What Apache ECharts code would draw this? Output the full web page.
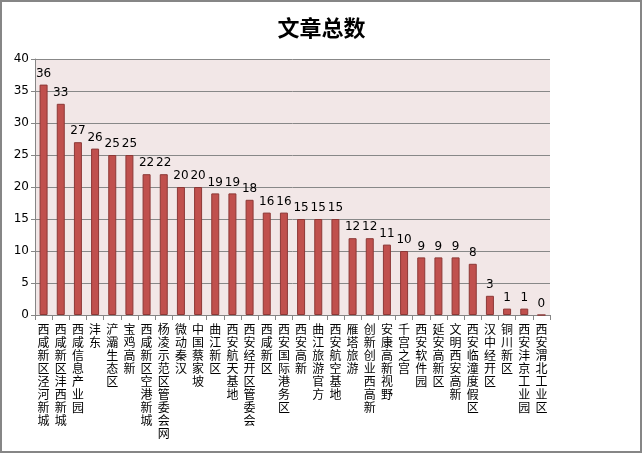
<!DOCTYPE html>
<html>
<head>
<meta charset="utf-8">
<script src="https://cdn.jsdelivr.net/npm/echarts@6/dist/echarts.min.js"></script>
<style>
html,body{margin:0;padding:0;background:#fff;}
#c{width:643px;height:454px;}
</style>
</head>
<body>
<div id="c"></div>
<script>
var categories = ['西咸新区泾河新城','西咸新区沣西新城','西咸信息产业园','沣东','浐灞生态区','宝鸡高新','西咸新区空港新城','杨凌示范区管委会网','微动秦汉','中国蔡家坡','曲江新区','西安航天基地','西安经开区管委会','西咸新区','西安国际港务区','西安高新','曲江旅游官方','西安航空基地','雁塔旅游','创新创业西高新','安康高新视野','千宫之宫','西安软件园','延安高新区','文明西安高新','西安临潼度假区','汉中经开区','铜川新区','西安沣京工业园','西安渭北工业区'];
var values = [36,33,27,26,25,25,22,22,20,20,19,19,18,16,16,15,15,15,12,12,11,10,9,9,9,8,3,1,1,0];
var title = '文章总数';

var chart = echarts.init(document.getElementById('c'));
chart.setOption({
  animation: false,
  backgroundColor: '#ffffff',
  title: {
    text: title, left: 'center', top: 12,
    textStyle: {fontFamily: 'Noto Sans CJK SC', fontSize: 22, fontWeight: 'bold', color: '#000'}
  },
  graphic: [{
    type: 'rect', silent: true, z: 100,
    shape: {x: 1, y: 1, width: 640, height: 451},
    style: {fill: 'none', stroke: '#868686', lineWidth: 2}
  }],
  grid: {
    left: 35, right: 93, top: 59, bottom: 139,
    show: true, backgroundColor: '#f2e7e7', borderWidth: 0
  },
  xAxis: {
    type: 'category', data: categories,
    axisLine: {lineStyle: {color: '#868686', width: 1}},
    axisTick: {show: true, length: 5, alignWithLabel: false, interval: 0, lineStyle: {color: '#868686'}},
    axisLabel: {
      interval: 0, margin: 8, color: '#000', fontSize: 12, lineHeight: 13,
      fontFamily: 'Noto Sans CJK SC', verticalAlign: 'top',
      formatter: function (v) { return v.split('').join('\n'); }
    }
  },
  yAxis: {
    type: 'value', min: 0, max: 40, interval: 5,
    axisLine: {show: true, lineStyle: {color: '#868686'}},
    axisTick: {show: true, length: 4, lineStyle: {color: '#868686'}},
    axisLabel: {color: '#000', fontSize: 12, margin: 6, fontFamily: 'DejaVu Sans'},
    splitLine: {show: true, lineStyle: {color: '#888888', width: 1}}
  },
  series: [{
    type: 'bar', data: values, barWidth: 8,
    itemStyle: {color: '#c0504d', borderColor: '#8c3836', borderWidth: 1},
    label: {show: true, position: 'top', distance: 5, color: '#000', fontSize: 12, fontFamily: 'DejaVu Sans'}
  }]
});
</script>
</body>
</html>
